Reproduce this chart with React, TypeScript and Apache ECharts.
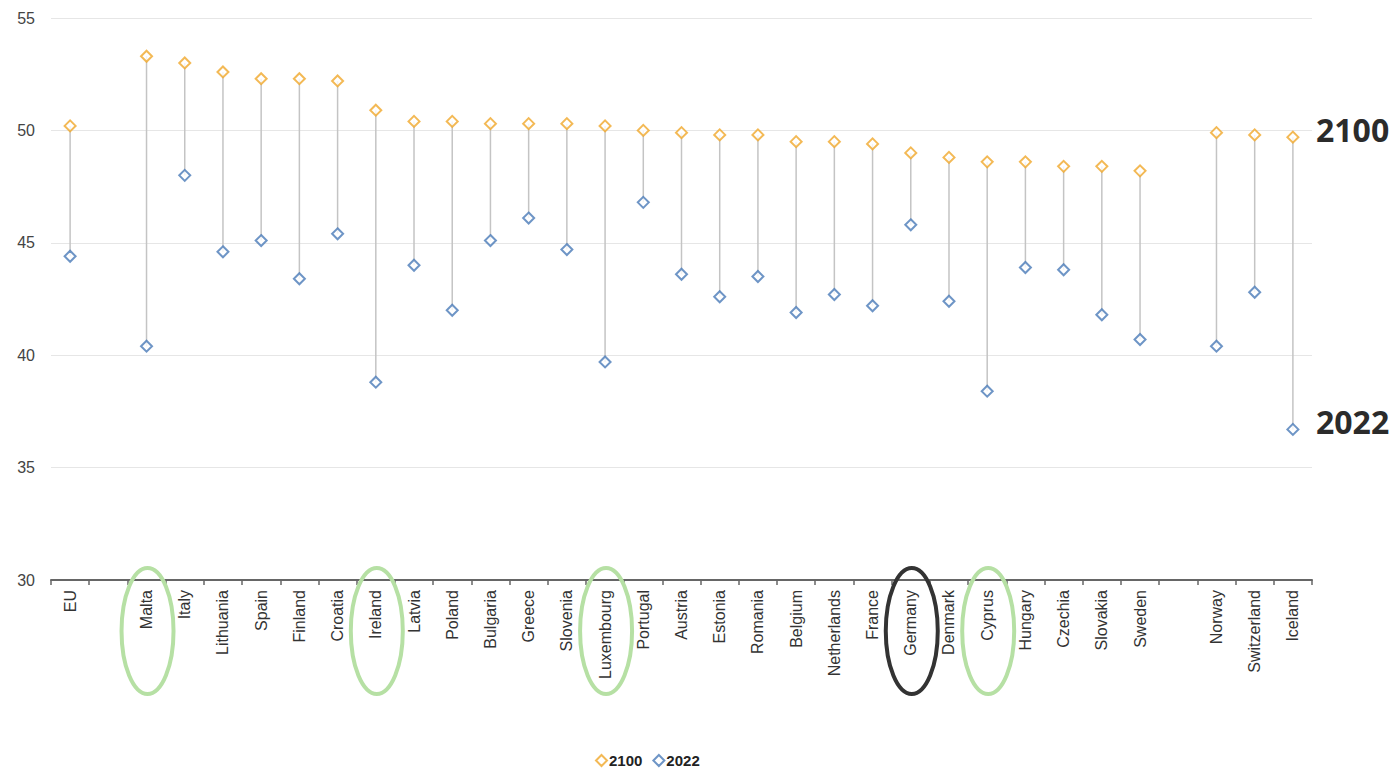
import React, { useEffect, useRef } from "react";
import * as echarts from "echarts";

const categories = [
  "EU", "", "Malta", "Italy", "Lithuania", "Spain", "Finland", "Croatia", "Ireland", "Latvia",
  "Poland", "Bulgaria", "Greece", "Slovenia", "Luxembourg", "Portugal", "Austria", "Estonia",
  "Romania", "Belgium", "Netherlands", "France", "Germany", "Denmark", "Cyprus", "Hungary",
  "Czechia", "Slovakia", "Sweden", "", "Norway", "Switzerland", "Iceland",
];

const values2100: (number | null)[] = [
  50.2, null, 53.3, 53.0, 52.6, 52.3, 52.3, 52.2, 50.9, 50.4,
  50.4, 50.3, 50.3, 50.3, 50.2, 50.0, 49.9, 49.8,
  49.8, 49.5, 49.5, 49.4, 49.0, 48.8, 48.6, 48.6,
  48.4, 48.4, 48.2, null, 49.9, 49.8, 49.7,
];

const values2022: (number | null)[] = [
  44.4, null, 40.4, 48.0, 44.6, 45.1, 43.4, 45.4, 38.8, 44.0,
  42.0, 45.1, 46.1, 44.7, 39.7, 46.8, 43.6, 42.6,
  43.5, 41.9, 42.7, 42.2, 45.8, 42.4, 38.4, 43.9,
  43.8, 41.8, 40.7, null, 40.4, 42.8, 36.7,
];

const greenCircled = ["Malta", "Ireland", "Luxembourg", "Cyprus"];
const blackCircled = ["Germany"];

const ORANGE = "#f0a72a";
const BLUE = "#4a7ab8";

export default function App() {
  const ref = useRef<HTMLDivElement>(null);

  useEffect(() => {
    if (!ref.current) return;
    const chart = echarts.init(ref.current, null, { renderer: "svg" });

    const rangeData = categories
      .map((c, i) => (values2100[i] == null ? null : [i, values2100[i], values2022[i]]))
      .filter((d) => d !== null);

    chart.setOption({
      animation: false,
      backgroundColor: "#ffffff",
      textStyle: { fontFamily: "Liberation Sans, Arial, sans-serif" },
      grid: { left: 51, right: 83, top: 18, bottom: 193, containLabel: false },
      legend: {
        bottom: 0,
        left: 590,
        itemWidth: 11,
        itemHeight: 11,
        itemGap: 10,
        textStyle: { fontWeight: "bold", fontSize: 15, color: "#222", padding: [0, 0, 0, -3] },
        data: ["2100", "2022"],
      },
      xAxis: {
        type: "category",
        data: categories,
        axisLine: { lineStyle: { color: "#666", width: 2 } },
        axisTick: { show: true, length: 5, lineStyle: { color: "#666", width: 1.5 } },
        axisLabel: { rotate: 90, interval: 0, fontSize: 16, color: "#333", margin: 10 },
        splitLine: { show: false },
      },
      yAxis: {
        type: "value",
        min: 30,
        max: 55,
        interval: 5,
        axisLine: { show: false },
        axisTick: { show: false },
        axisLabel: { fontSize: 16, color: "#444", margin: 16 },
        splitLine: { lineStyle: { color: "#e6e6e6", width: 1 } },
      },
      series: [
        {
          type: "custom",
          name: "range",
          z: 1,
          renderItem: (params: any, api: any) => {
            const i = api.value(0);
            const a = api.coord([i, api.value(1)]);
            const b = api.coord([i, api.value(2)]);
            return {
              type: "line",
              shape: { x1: a[0], y1: a[1], x2: b[0], y2: b[1] },
              style: { stroke: "#c4c4c4", lineWidth: 1.5 },
            };
          },
          encode: { x: 0, y: [1, 2] },
          data: rangeData,
          silent: true,
        },
        {
          type: "scatter",
          name: "2100",
          z: 3,
          symbol: "diamond",
          symbolSize: 11,
          itemStyle: { color: "#ffffff", borderColor: ORANGE, borderWidth: 2 },
          data: values2100.map((v) => (v == null ? "-" : v)),
        },
        {
          type: "scatter",
          name: "2022",
          z: 3,
          symbol: "diamond",
          symbolSize: 11,
          itemStyle: { color: "#ffffff", borderColor: BLUE, borderWidth: 2 },
          data: values2022.map((v) => (v == null ? "-" : v)),
        },
      ],
    });

    const ellipses: any[] = [];
    categories.forEach((c, i) => {
      const isGreen = greenCircled.includes(c);
      const isBlack = blackCircled.includes(c);
      if (!isGreen && !isBlack) return;
      const p = chart.convertToPixel({ xAxisIndex: 0 }, c as any) as unknown as number;
      ellipses.push({
        type: "ellipse",
        shape: { cx: p + 1, cy: 631, rx: 26, ry: 63 },
        style: { fill: "none", stroke: isGreen ? "#b6e0a4" : "#333333", lineWidth: 4 },
        z: 100,
      });
    });

    chart.setOption({
      graphic: [
        ...ellipses,
        {
          type: "text",
          left: 1316,
          top: 113,
          style: { text: "2100", font: "bold 32px 'Open Sans', sans-serif", fill: "#2b2b2b" },
        },
        {
          type: "text",
          left: 1316,
          top: 405,
          style: { text: "2022", font: "bold 32px 'Open Sans', sans-serif", fill: "#2b2b2b" },
        },
      ],
    });

    return () => chart.dispose();
  }, []);

  return (
    <div
      ref={ref}
      style={{ position: "absolute", left: 0, top: 0, width: 1395, height: 773 }}
    />
  );
}
